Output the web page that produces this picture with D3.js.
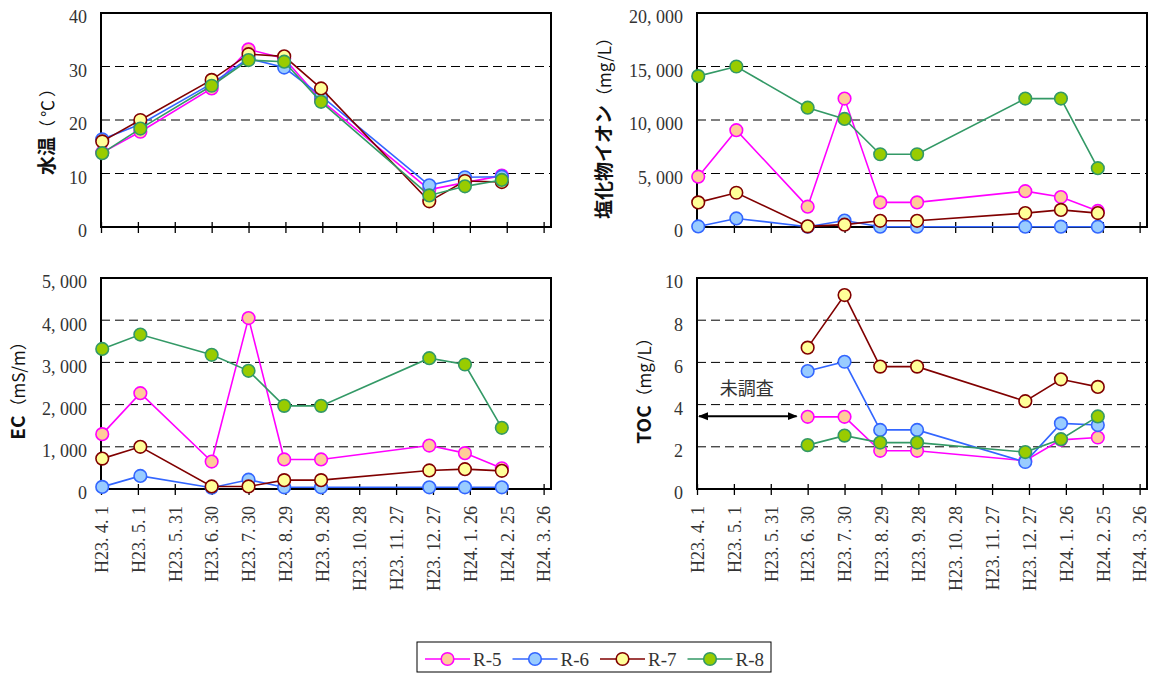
<!DOCTYPE html>
<html>
<head>
<meta charset="utf-8">
<script src="https://cdn.jsdelivr.net/npm/d3@7"></script>
<style>
  html, body { margin: 0; padding: 0; background: #fff; }
  svg { display: block; }
</style>
</head>
<body>
<svg id="chart" width="1153" height="673"></svg>
<script>
// Sampling dates (H23 = 2011, H24 = 2012)
const sampleDates = ["2011-04-02", "2011-05-03", "2011-06-30", "2011-07-30", "2011-08-28",
                     "2011-09-27", "2011-12-24", "2012-01-22", "2012-02-21"];
const seriesNames = ["R-5", "R-6", "R-7", "R-8"];

// X axis: 30-day ticks
const tickDates = ["2011-04-01", "2011-05-01", "2011-05-31", "2011-06-30", "2011-07-30", "2011-08-29",
                   "2011-09-28", "2011-10-28", "2011-11-27", "2011-12-27", "2012-01-26", "2012-02-25", "2012-03-26"];
const tickLabels = ["H23. 4. 1", "H23. 5. 1", "H23. 5. 31", "H23. 6. 30", "H23. 7. 30", "H23. 8. 29",
                    "H23. 9. 28", "H23. 10. 28", "H23. 11. 27", "H23. 12. 27", "H24. 1. 26", "H24. 2. 25", "H24. 3. 26"];
const dateDomain = ["2011-04-01", "2012-04-01"];

// 水温 (℃)
const tempR5 = [13.9, 17.8, 25.9, 33.2, 31.5, 23.7, 7.0, 8.3, 9.6];
const tempR6 = [16.4, 19.2, 26.8, 31.5, 29.8, 24.5, 7.8, 9.3, 9.4];
const tempR7 = [16.0, 20.0, 27.5, 32.3, 31.9, 25.9, 4.8, 8.6, 8.4];
const tempR8 = [13.8, 18.4, 26.4, 31.2, 30.9, 23.4, 5.9, 7.6, 8.8];
const tempTicks = [0, 10, 20, 30, 40];

// 塩化物イオン (mg/L)
const clR5 = [4700, 9050, 1900, 12000, 2300, 2300, 3350, 2800, 1500];
const clR6 = [50, 800, 30, 600, 30, 30, 30, 30, 30];
const clR7 = [2300, 3200, 60, 220, 580, 580, 1300, 1600, 1300];
const clR8 = [14100, 15000, 11150, 10100, 6800, 6800, 12000, 12000, 5500];
const clTicks = [0, 5000, 10000, 15000, 20000];

// EC (mS/m)
const ecR5 = [1300, 2270, 650, 4050, 700, 700, 1030, 850, 490];
const ecR6 = [50, 310, 30, 220, 40, 40, 40, 40, 40];
const ecR7 = [720, 1000, 60, 60, 210, 210, 440, 470, 430];
const ecR8 = [3320, 3660, 3180, 2800, 1970, 1970, 3100, 2950, 1450];
const ecTicks = [0, 1000, 2000, 3000, 4000, 5000];

// TOC (mg/L) – not surveyed before H23.6.30
const tocR5 = [null, null, 3.42, 3.42, 1.81, 1.81, 1.34, 2.33, 2.44];
const tocR6 = [null, null, 5.59, 6.03, 2.80, 2.80, 1.28, 3.11, 3.03];
const tocR7 = [null, null, 6.70, 9.19, 5.80, 5.80, 4.16, 5.20, 4.84];
const tocR8 = [null, null, 2.08, 2.53, 2.20, 2.20, 1.75, 2.36, 3.44];
const tocTicks = [0, 2, 4, 6, 8, 10];

// 未調査 span and level
const notSurveyedSpan = ["2011-04-01", "2011-06-21"];
const notSurveyedLevel = 3.45;
const notSurveyedText = "未調査";

const lineColors = ["#FF00FF", "#3366FF", "#800000", "#339966"];
const fillColors = ["#FFCC99", "#99CCFF", "#FFFF99", "#99CC00"];

const parse = d3.utcParse("%Y-%m-%d");
const SERIF = "'Liberation Serif', 'DejaVu Serif', serif";
const JP = "'Noto Sans CJK JP', 'Noto Sans', sans-serif";

const svg = d3.select("#chart");

// arrowheads for the 未調査 marker
const defs = svg.append("defs");
["start", "end"].forEach(k => {
  defs.append("marker")
    .attr("id", "arrow-" + k)
    .attr("viewBox", "0 0 10 10")
    .attr("refX", k === "end" ? 9 : 1).attr("refY", 5)
    .attr("markerWidth", 10).attr("markerHeight", 10)
    .attr("markerUnits", "userSpaceOnUse")
    .attr("orient", "auto")
    .append("path")
    .attr("d", k === "end" ? "M0,1 L10,5 L0,9 Z" : "M10,1 L0,5 L10,9 Z")
    .attr("fill", "#000");
});

const commaFmt = v => d3.format(",")(v).replace(/,/g, ", ");

const panels = [
  { box: [101, 551, 13, 227], series: [tempR5, tempR6, tempR7, tempR8], ticks: tempTicks,
    fmt: d3.format("d"), title: ["水温", "（℃）"], unitSpacing: 3, titleX: 48, titleShift: 6, xLabels: false },
  { box: [697, 1147, 13, 227], series: [clR5, clR6, clR7, clR8], ticks: clTicks,
    fmt: commaFmt, title: ["塩化物イオン", "（mg/L）"], unitSpacing: 0, titleX: 605, titleShift: 4, xLabels: false },
  { box: [101, 551, 278, 489], series: [ecR5, ecR6, ecR7, ecR8], ticks: ecTicks,
    fmt: commaFmt, title: ["EC", "（mS/m）"], unitSpacing: 0, titleX: 19, titleShift: 3, xLabels: true },
  { box: [697, 1147, 278, 489], series: [tocR5, tocR6, tocR7, tocR8], ticks: tocTicks,
    fmt: d3.format("d"), title: ["TOC", "（mg/L）"], unitSpacing: 0, titleX: 645, titleShift: 3, xLabels: true, note: true }
];

panels.forEach(p => {
  const [x0, x1, y0, y1] = p.box;
  const x = d3.scaleUtc().domain(dateDomain.map(parse)).range([x0, x1]);
  const yMax = p.ticks[p.ticks.length - 1];
  const y = d3.scaleLinear().domain([0, yMax]).range([y1, y0]);
  const g = svg.append("g");

  // dashed gridlines at inner ticks
  g.append("g").selectAll("line")
    .data(p.ticks.filter(t => t > 0 && t < yMax))
    .join("line")
    .attr("x1", x0).attr("x2", x1)
    .attr("y1", d => y(d)).attr("y2", d => y(d))
    .attr("stroke", "#000").attr("stroke-width", 1)
    .attr("stroke-dasharray", "9,5");

  // y axis labels
  const yAxis = g.append("g")
    .attr("transform", `translate(${x0},0)`)
    .call(d3.axisLeft(y).tickValues(p.ticks).tickSize(0).tickPadding(14).tickFormat(p.fmt));
  yAxis.select(".domain").remove();
  yAxis.selectAll("text")
    .attr("font-family", SERIF).attr("font-size", 18).attr("fill", "#333")
    .attr("dy", "0.55em");

  // x axis with ticks crossing the baseline
  const xAxis = g.append("g")
    .attr("transform", `translate(0,${y1})`)
    .call(d3.axisBottom(x).tickValues(tickDates.map(parse)).tickSize(6)
      .tickFormat((d, i) => tickLabels[i]));
  xAxis.select(".domain").remove();
  xAxis.selectAll(".tick line").attr("y1", -5).attr("y2", 6)
    .attr("stroke", "#000").attr("stroke-width", 1.3);
  if (p.xLabels) {
    xAxis.selectAll(".tick text")
      .attr("font-family", SERIF).attr("font-size", 18).attr("fill", "#333")
      .attr("text-anchor", "end")
      .attr("transform", "rotate(-90)")
      .attr("x", -17).attr("y", 0).attr("dy", "0.35em");
  } else {
    xAxis.selectAll(".tick text").remove();
  }

  // plot frame
  g.append("rect")
    .attr("x", x0).attr("y", y0).attr("width", x1 - x0).attr("height", y1 - y0)
    .attr("fill", "none").attr("stroke", "#000").attr("stroke-width", 2);

  // axis title
  const cy = (y0 + y1) / 2 + p.titleShift;
  const t = g.append("text")
    .attr("transform", `translate(${p.titleX},${cy}) rotate(-90)`)
    .attr("text-anchor", "middle").attr("dy", "0.35em")
    .attr("font-family", JP).attr("fill", "#111");
  t.append("tspan").attr("font-size", 19).attr("font-weight", 700).text(p.title[0]);
  t.append("tspan").attr("font-size", 17).attr("font-weight", 400)
    .attr("letter-spacing", p.unitSpacing).text(p.title[1]);

  // not-surveyed annotation
  if (p.note) {
    const ay = y(notSurveyedLevel);
    g.append("line")
      .attr("x1", x(parse(notSurveyedSpan[0])) + 2).attr("x2", x(parse(notSurveyedSpan[1])))
      .attr("y1", ay).attr("y2", ay)
      .attr("stroke", "#000").attr("stroke-width", 2)
      .attr("marker-start", "url(#arrow-start)").attr("marker-end", "url(#arrow-end)");
    g.append("text")
      .attr("x", (x(parse(notSurveyedSpan[0])) + x(parse(notSurveyedSpan[1]))) / 2)
      .attr("y", ay - 21)
      .attr("text-anchor", "middle")
      .attr("font-family", JP).attr("font-size", 18).attr("fill", "#333")
      .text(notSurveyedText);
  }

  // series: line then markers
  const line = d3.line()
    .defined(d => d.v != null)
    .x(d => x(d.date)).y(d => y(d.v));
  p.series.forEach((vals, si) => {
    const pts = vals.map((v, i) => ({ date: parse(sampleDates[i]), v }));
    const sg = g.append("g");
    sg.append("path").datum(pts)
      .attr("d", line)
      .attr("fill", "none").attr("stroke", lineColors[si]).attr("stroke-width", 1.6);
    sg.selectAll("circle").data(pts.filter(d => d.v != null))
      .join("circle")
      .attr("cx", d => x(d.date)).attr("cy", d => y(d.v)).attr("r", 6.3)
      .attr("fill", fillColors[si]).attr("stroke", lineColors[si]).attr("stroke-width", 1.6);
  });
});

// legend
const lg = svg.append("g");
lg.append("rect").attr("x", 417).attr("y", 642).attr("width", 354).attr("height", 30)
  .attr("fill", "#fff").attr("stroke", "#000").attr("stroke-width", 1);
seriesNames.forEach((name, i) => {
  const lx = 425 + i * 87.5, ly = 659;
  lg.append("line").attr("x1", lx).attr("x2", lx + 45).attr("y1", ly).attr("y2", ly)
    .attr("stroke", lineColors[i]).attr("stroke-width", 1.6);
  lg.append("circle").attr("cx", lx + 22.5).attr("cy", ly).attr("r", 6.3)
    .attr("fill", fillColors[i]).attr("stroke", lineColors[i]).attr("stroke-width", 1.6);
  lg.append("text").attr("x", lx + 48).attr("y", ly).attr("dy", "0.35em")
    .attr("font-family", SERIF).attr("font-size", 19).attr("fill", "#333").text(name);
});
</script>
</body>
</html>
